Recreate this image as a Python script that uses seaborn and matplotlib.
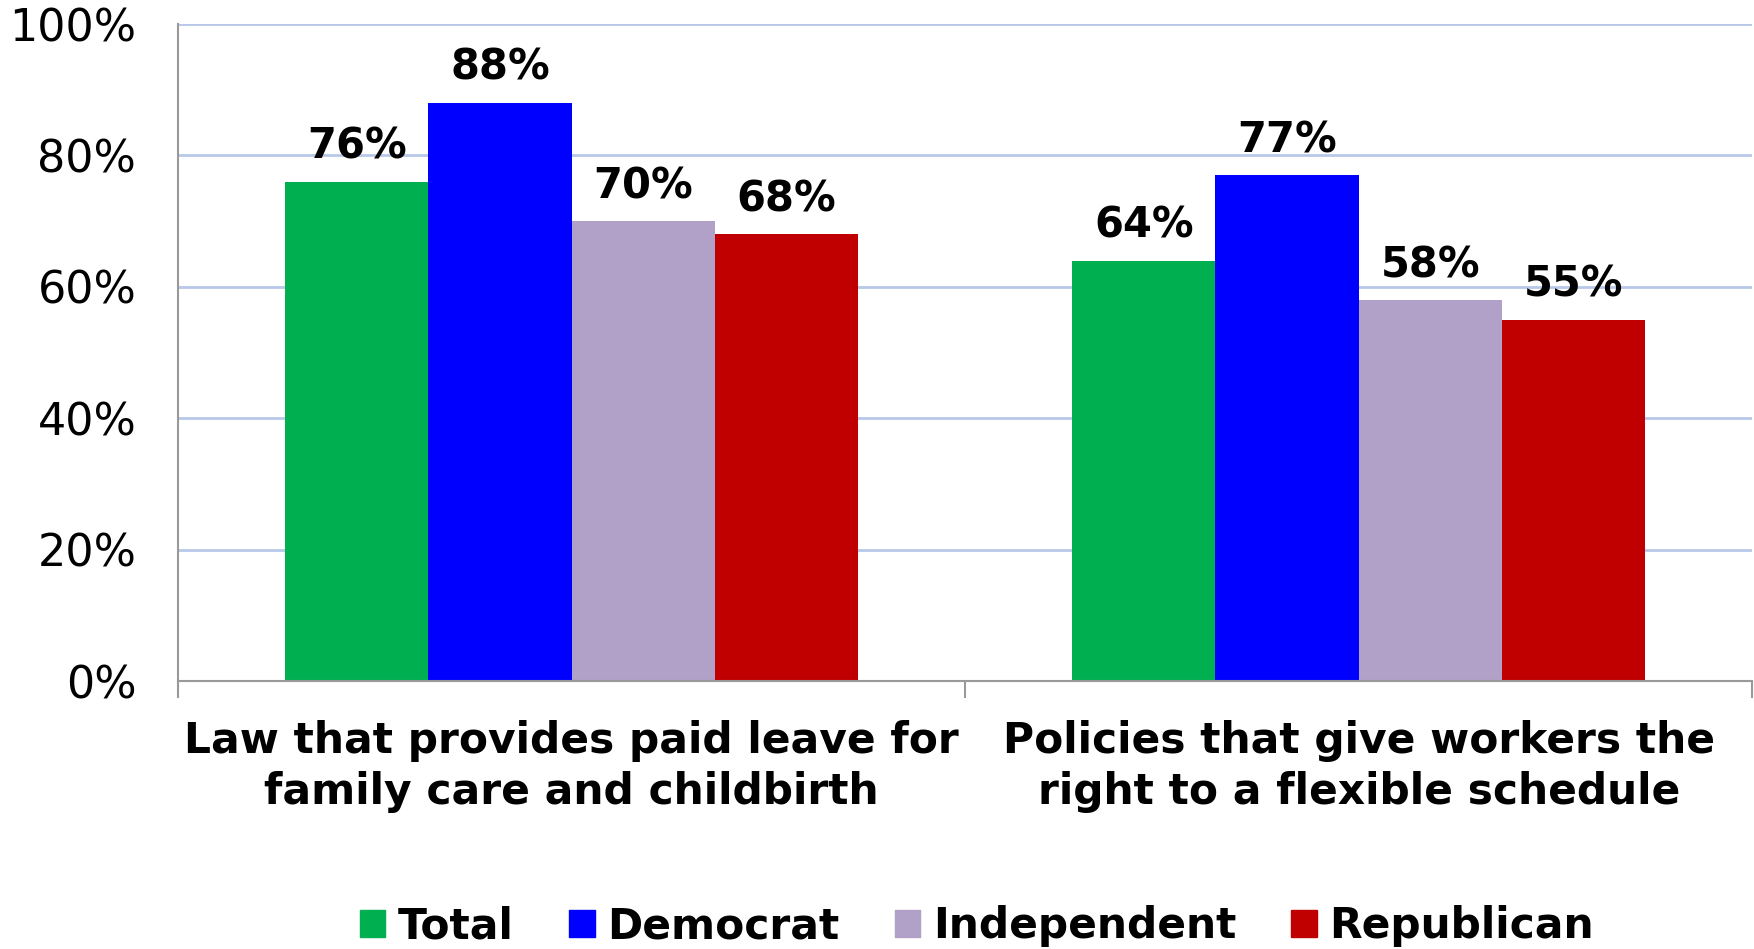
import pandas as pd
import matplotlib
matplotlib.use("Agg")
import matplotlib.pyplot as plt
import seaborn as sns

# data
categories = ["Law that provides paid leave for\nfamily care and childbirth",
              "Policies that give workers the\nright to a flexible schedule"]
groups = ["Total", "Democrat", "Independent", "Republican"]
total = [76, 64]
democrat = [88, 77]
independent = [70, 58]
republican = [68, 55]
colors = ["#00B050", "#0000FF", "#B1A0C7", "#C00000"]

rows = []
for g, vals in zip(groups, [total, democrat, independent, republican]):
    for c, v in zip(categories, vals):
        rows.append({"category": c, "group": g, "value": v})
df = pd.DataFrame(rows)

sns.set_theme(style="white")
plt.rcParams['font.family'] = ['DejaVu Sans']
plt.rcParams['text.color'] = 'black'
plt.rcParams['xtick.color'] = 'black'
plt.rcParams['ytick.color'] = 'black'

fig = plt.figure(figsize=(17.54, 9.49), dpi=100)
ax = fig.add_axes([0.1015, 0.2824, 0.8975, 0.6923])

sns.barplot(data=df, x="category", y="value", hue="group", order=categories,
            hue_order=groups, palette=colors, width=0.728, saturation=1,
            edgecolor="none", linewidth=0, ax=ax)

for cont in ax.containers:
    ax.bar_label(cont, labels=[f"{int(v)}%" for v in cont.datavalues],
                 padding=10, fontsize=30, fontweight="bold", color="black")

ax.set_ylim(0, 100)
ax.set_xlim(-0.5, 1.5)
ax.set_yticks(range(0, 101, 20))
ax.set_yticklabels([f"{v}%" for v in range(0, 101, 20)], fontsize=32)
ax.yaxis.grid(True, color="#B7C8E8", linewidth=2)
ax.set_axisbelow(True)

ax.set_xticks([0, 1])
ax.set_xticklabels(categories, fontsize=30.5, fontweight="bold", linespacing=1.28)
ax.tick_params(axis="x", which="major", length=0, pad=28)
ax.set_xticks([-0.5, 0.5, 1.5], minor=True)
ax.tick_params(axis="x", which="minor", length=12, color="#999999", width=1.5, direction="out")
ax.tick_params(axis="y", length=0, pad=30)
ax.xaxis.set_tick_params(bottom=True, which="minor")

ax.set_xlabel("")
ax.set_ylabel("")
for s in ["top", "right"]:
    ax.spines[s].set_visible(False)
for s in ["left", "bottom"]:
    ax.spines[s].set_color("#999999")
    ax.spines[s].set_linewidth(1.5)

ax.legend_.remove()
handles = [plt.Rectangle((0, 0), 1, 1, color=c) for c in colors]
fig.legend(handles, groups, loc="center", bbox_to_anchor=(0.557, 0.024), ncol=4,
           frameon=False, prop={"size": 30.5, "weight": "bold"},
           handlelength=0.6, handleheight=0.6, handletextpad=0.3, columnspacing=1.3)

fig.savefig("out.png", dpi=100)
